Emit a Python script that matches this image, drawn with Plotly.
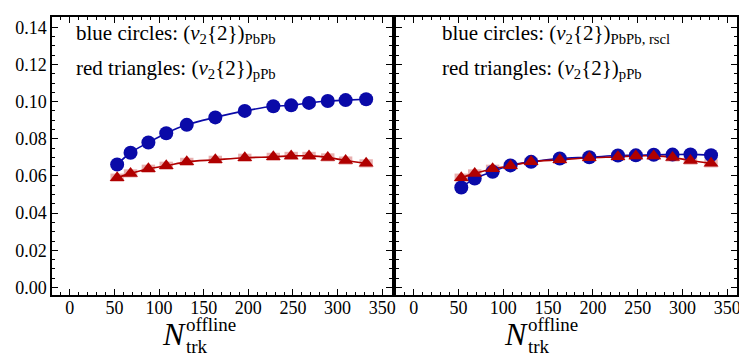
import plotly.graph_objects as go

# data
n_trk = [53, 68, 88, 108, 131, 163, 196, 228, 248, 268, 289, 309, 332]
v2_pbpb = [0.0662, 0.0725, 0.0780, 0.0830, 0.0875, 0.0915, 0.0950, 0.0975,
           0.0980, 0.0993, 0.1003, 0.1008, 0.1013]
v2_pbpb_rscl = [0.0538, 0.0586, 0.0623, 0.0657, 0.0676, 0.0694, 0.0701, 0.0710,
                0.0711, 0.0714, 0.0715, 0.0716, 0.0712]
v2_ppb = [0.0591, 0.0614, 0.0639, 0.0655, 0.0676, 0.0687, 0.0698, 0.0703,
          0.0708, 0.0708, 0.0700, 0.0683, 0.0668]
sys_pbpb = [0.0017] * len(n_trk)
sys_ppb = [0.0022] * len(n_trk)

BLUE = "#0a0aa8"
RED = "#b00000"
BLUE_BOX = "rgba(120,120,230,0.55)"
RED_BOX = "rgba(205,80,80,0.45)"
FONT = "Liberation Serif, Times New Roman, serif"

fig = go.Figure()


def add_panel(xa, ya, blue_y):
    # systematic boxes
    fig.add_trace(go.Bar(x=n_trk, y=[2 * s for s in sys_pbpb],
                         base=[v - s for v, s in zip(blue_y, sys_pbpb)],
                         width=14, marker=dict(color=BLUE_BOX, line_width=0),
                         xaxis=xa, yaxis=ya, hoverinfo="skip"))
    fig.add_trace(go.Bar(x=n_trk, y=[2 * s for s in sys_ppb],
                         base=[v - s for v, s in zip(v2_ppb, sys_ppb)],
                         width=15, marker=dict(color=RED_BOX, line_width=0),
                         xaxis=xa, yaxis=ya, hoverinfo="skip"))
    # fit curves
    fig.add_trace(go.Scatter(x=n_trk, y=blue_y, mode="lines",
                             line=dict(color=BLUE, width=1.6, shape="spline"),
                             xaxis=xa, yaxis=ya))
    fig.add_trace(go.Scatter(x=n_trk, y=v2_ppb, mode="lines",
                             line=dict(color=RED, width=1.6, shape="spline"),
                             xaxis=xa, yaxis=ya))
    # points
    fig.add_trace(go.Scatter(x=n_trk, y=blue_y, mode="markers",
                             marker=dict(color=BLUE, size=14, symbol="circle", line_width=0),
                             xaxis=xa, yaxis=ya))
    fig.add_trace(go.Scatter(x=n_trk, y=v2_ppb, mode="markers",
                             marker=dict(color=RED, size=13, symbol="triangle-up", line_width=0),
                             xaxis=xa, yaxis=ya))


add_panel("x", "y", v2_pbpb)
add_panel("x2", "y2", v2_pbpb_rscl)

xax = dict(range=[-20, 361], tickvals=[0, 50, 100, 150, 200, 250, 300, 350],
           ticks="inside", ticklen=6, tickwidth=1, tickcolor="black",
           minor=dict(dtick=10, ticklen=3, ticks="inside", tickcolor="black"),
           showline=True, linecolor="black", linewidth=1.5, mirror="allticks",
           showgrid=False, zeroline=False, ticklabelstandoff=-4,
           tickfont=dict(family=FONT, size=18, color="black"))
yax = dict(range=[-0.004, 0.1455], tickvals=[0, 0.02, 0.04, 0.06, 0.08, 0.10, 0.12, 0.14],
           tickformat=".2f",
           ticks="inside", ticklen=6, tickwidth=1, tickcolor="black",
           minor=dict(dtick=0.005, ticklen=3, ticks="inside", tickcolor="black"),
           showline=True, linecolor="black", linewidth=1.5, mirror="allticks",
           showgrid=False, zeroline=False,
           tickfont=dict(family=FONT, size=18, color="black"))

# page body adds an 8px margin, so the figure is shrunk by 8px
fig.update_layout(
    width=739, height=354,
    paper_bgcolor="white", plot_bgcolor="white",
    margin=dict(l=32, r=8, t=7, b=67),
    showlegend=False, barmode="overlay",
    xaxis={**xax, "domain": [0, 0.4964], "anchor": "y"},
    yaxis={**yax, "domain": [0, 1], "anchor": "x"},
    xaxis2={**xax, "domain": [0.5021, 1], "anchor": "y2"},
    yaxis2={**yax, "domain": [0, 1], "anchor": "x2", "showticklabels": False},
)

labels = [
    ("x domain", "y domain", 0.065, "blue circles: (<i>v</i><sub>2</sub>{2})<sub>PbPb</sub>",
     "red triangles: (<i>v</i><sub>2</sub>{2})<sub>pPb</sub>"),
    ("x2 domain", "y2 domain", 0.128, "blue circles: (<i>v</i><sub>2</sub>{2})<sub>PbPb, rscl</sub>",
     "red triangles: (<i>v</i><sub>2</sub>{2})<sub>pPb</sub>"),
]
for xr, yr, tx, l1, l2 in labels:
    fig.add_annotation(x=tx, y=0.939, xref=xr, yref=yr, text=l1, showarrow=False,
                       xanchor="left", yanchor="middle",
                       font=dict(family=FONT, size=21, color="black"))
    fig.add_annotation(x=tx, y=0.814, xref=xr, yref=yr, text=l2, showarrow=False,
                       xanchor="left", yanchor="middle",
                       font=dict(family=FONT, size=21, color="black"))

# axis titles: N with stacked super/subscript
for px0 in [179, 528]:
    fx = (px0 - 40) / 699
    fig.add_annotation(x=fx, y=-0.14, xref="paper", yref="paper", text="<i>N</i>",
                       showarrow=False, xanchor="right", yanchor="middle",
                       font=dict(family=FONT, size=32, color="black"))
    fig.add_annotation(x=fx - 0.006, y=-0.105, xref="paper", yref="paper", text="offline",
                       showarrow=False, xanchor="left", yanchor="middle",
                       font=dict(family=FONT, size=19, color="black"))
    fig.add_annotation(x=fx - 0.006, y=-0.185, xref="paper", yref="paper", text="trk",
                       showarrow=False, xanchor="left", yanchor="middle",
                       font=dict(family=FONT, size=19, color="black"))

fig.write_html("out.html")
